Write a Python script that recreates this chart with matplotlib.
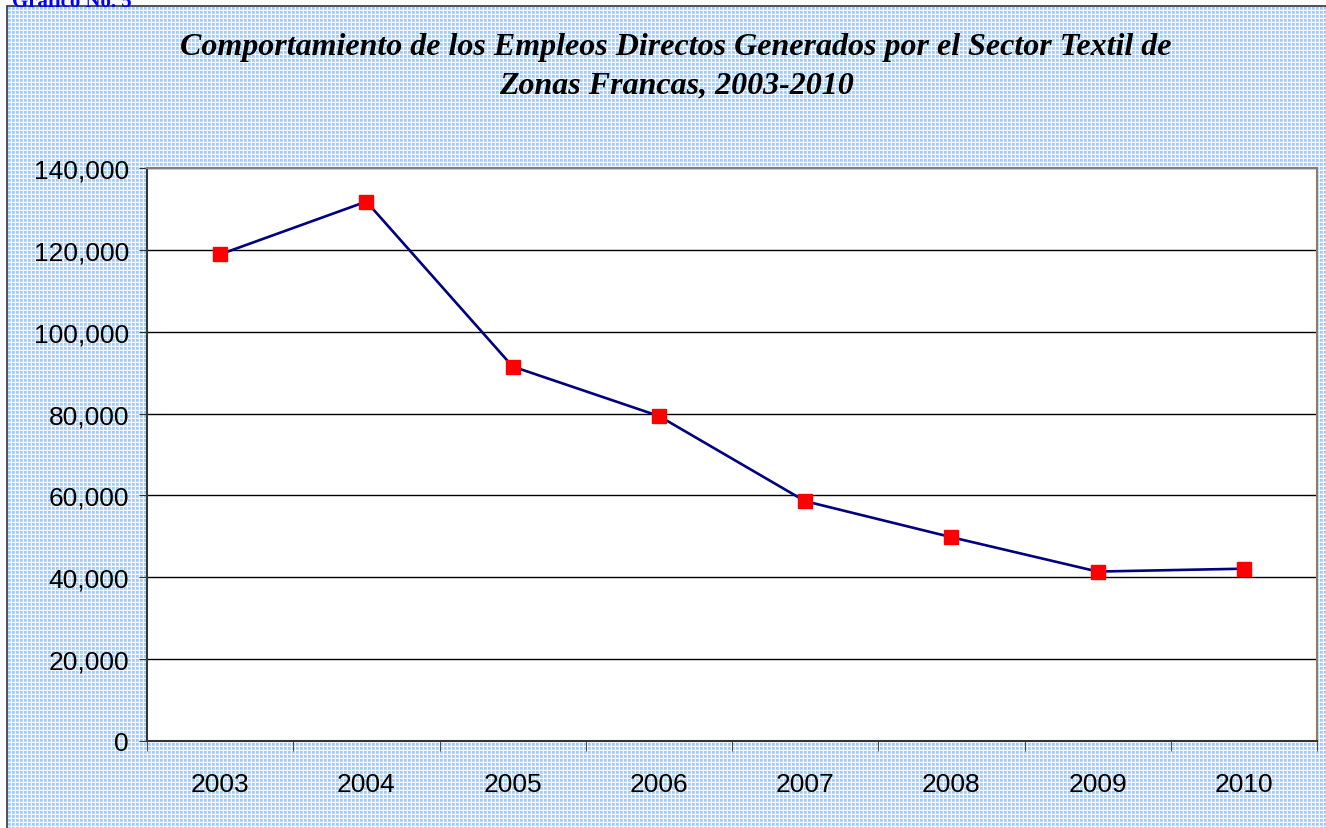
import numpy as np
import matplotlib.pyplot as plt
from matplotlib.patches import Rectangle

years = ["2003", "2004", "2005", "2006", "2007", "2008", "2009", "2010"]
empleos = [118900, 131800, 91500, 79400, 58600, 49800, 41400, 42100]
y_ticks = [0, 20000, 40000, 60000, 80000, 100000, 120000, 140000]

W, H = 1326, 829
fig = plt.figure(figsize=(W / 100, H / 100), dpi=100)
fig.patch.set_facecolor("white")

# checkered light-blue background, like the Excel fill
yy, xx = np.mgrid[0:H, 0:W]
chk = ((xx // 2) % 2 == 0) & ((yy // 2) % 2 == 0)
bg = np.ones((H, W, 3))
bg[:] = np.array([0xb3, 0xd9, 0xff]) / 255
bg[chk] = np.array([0x99, 0xcc, 0xff]) / 255
bg[((xx % 4) == 3) | ((yy % 4) == 3)] = np.array([0xf4, 0xf9, 0xff]) / 255
bg[:7, :] = 1.0
bg[:, :7] = 1.0
fig.figimage(bg, xo=0, yo=0, origin="upper", zorder=0)

# chart frame
fig.add_artist(Rectangle((7 / W, -0.05), 1.05, (H - 7) / H + 0.05,
                         transform=fig.transFigure, fill=False,
                         edgecolor="#333333", linewidth=1.2, zorder=1))

# caption sits half above the page edge, as in the source
fig.text(12 / W, 1 - 2 / H, "Gráfico No. 5", color="#0000ff",
         family="Liberation Serif", fontweight="bold", fontsize=15,
         ha="left", va="center", zorder=3)

fig.text(676 / W, 1 - 48 / H,
         "Comportamiento de los Empleos Directos Generados por el Sector Textil de",
         family="Liberation Serif", fontweight="bold", style="italic",
         fontsize=23, ha="center", va="center", zorder=3)
fig.text(676 / W, 1 - 86 / H, "Zonas Francas, 2003-2010",
         family="Liberation Serif", fontweight="bold", style="italic",
         fontsize=23, ha="center", va="center", zorder=3)

ax = fig.add_axes([147 / W, 87 / H, (1317 - 147) / W, (742 - 169) / H], zorder=2)
ax.set_facecolor("white")
x = np.arange(len(years))
ax.plot(x, empleos, color="#000080", linewidth=1.9, zorder=3)
ax.plot(x, empleos, linestyle="none", marker="s", markersize=10,
        color="#ff0000", markeredgecolor="#ff0000", zorder=4)

ax.set_xlim(-0.5, len(years) - 0.5)
ax.set_ylim(0, 140000)
ax.set_yticks(y_ticks)
ax.set_yticklabels([f"{v:,}" for v in y_ticks], family="Liberation Sans", fontsize=19)
ax.set_xticks(x)
ax.set_xticklabels(years, family="Liberation Sans", fontsize=19)
ax.set_xticks(np.arange(-0.5, len(years)), minor=True)
ax.tick_params(axis="x", which="major", length=0, pad=22)
ax.tick_params(axis="x", which="minor", length=7, color="#333333", direction="out")
ax.tick_params(axis="y", length=6, color="#333333", pad=7)
ax.grid(axis="y", color="black", linewidth=1.0)
ax.set_axisbelow(True)

for s in ["top", "right"]:
    ax.spines[s].set_color("#808080")
    ax.spines[s].set_linewidth(1.5)
for s in ["left", "bottom"]:
    ax.spines[s].set_color("#333333")
    ax.spines[s].set_linewidth(1.5)

fig.savefig("out.png", dpi=100)
